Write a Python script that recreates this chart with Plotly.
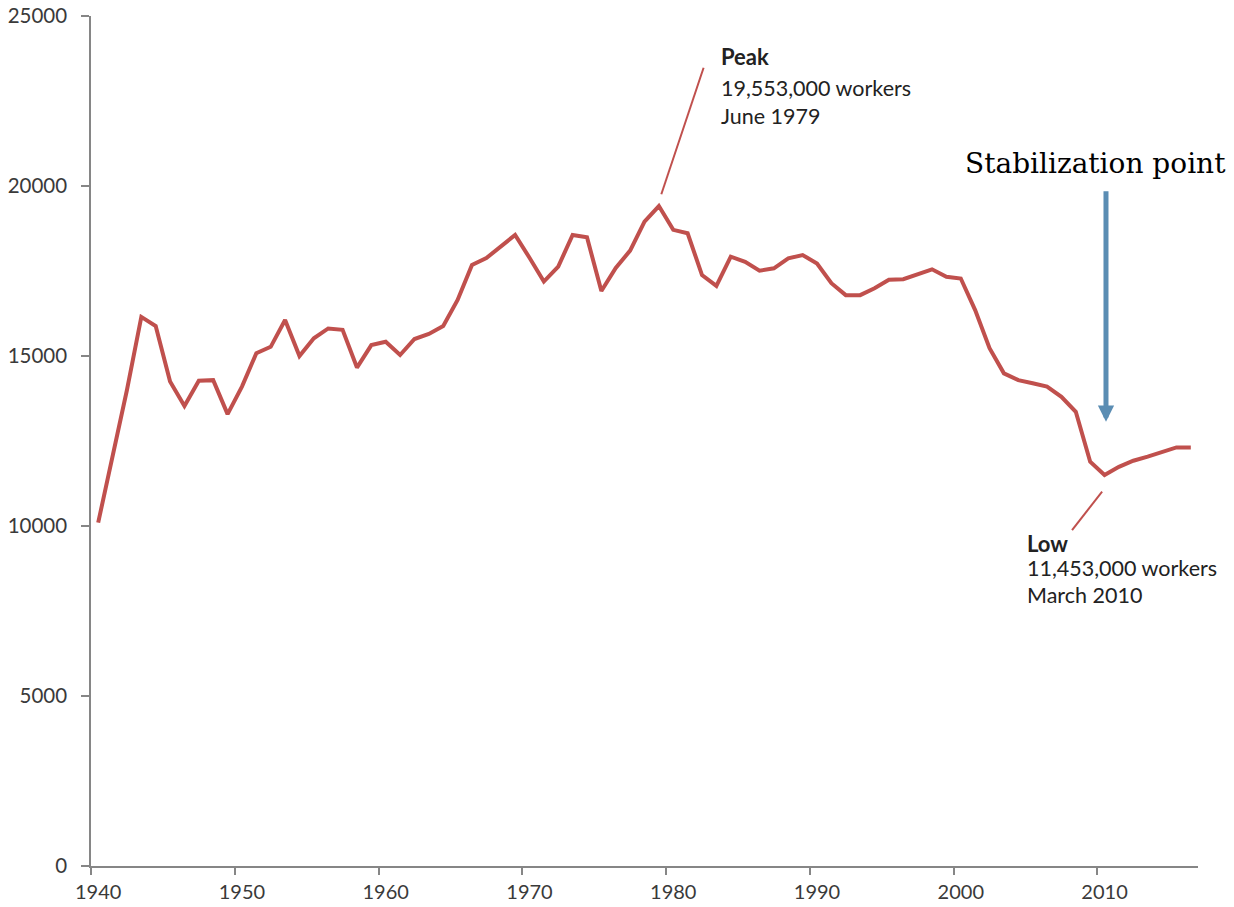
import plotly.graph_objects as go

# Manufacturing employment, annual values (thousands of workers)
years = list(range(1940, 2017))
employment = [
    10100, 12100, 14000, 16150, 15880, 14250, 13530, 14270, 14290, 13290,  # 1940s
    14100, 15080, 15270, 16060, 15000, 15520, 15810, 15770, 14660, 15320,  # 1950s
    15420, 15030, 15500, 15650, 15880, 16650, 17680, 17880, 18220, 18560,  # 1960s
    17890, 17190, 17630, 18560, 18490, 16910, 17590, 18100, 18950, 19410,  # 1970s
    18710, 18610, 17380, 17060, 17920, 17770, 17510, 17580, 17870, 17970,  # 1980s
    17720, 17140, 16790, 16790, 16990, 17240, 17260, 17410, 17550, 17330,  # 1990s
    17280, 16350, 15230, 14490, 14290, 14200, 14100, 13800, 13360, 11890,  # 2000s
    11500, 11740, 11920, 12040, 12190, 12310, 12310,                       # 2010s
]

decade_ticks = [1940, 1950, 1960, 1970, 1980, 1990, 2000, 2010]
decade_labels = [str(y) for y in decade_ticks]
y_ticks = [0, 5000, 10000, 15000, 20000, 25000]
y_labels = [str(v) for v in y_ticks]

peak_lines = ["<b>Peak</b>", "19,553,000 workers", "June 1979"]
low_lines = ["<b>Low</b>", "11,453,000 workers", "March 2010"]
stab_text = "Stabilization point"

LINE_RED = "#c0504d"
AXIS_GREY = "#868686"
TEXT_DARK = "#222222"
SANS = "Lato, 'Open Sans', sans-serif"

fig = go.Figure()
fig.add_trace(go.Scatter(
    x=years, y=employment, mode="lines",
    line=dict(color=LINE_RED, width=4),
    hoverinfo="x+y", showlegend=False,
))

# leader lines for the peak and low callouts
fig.add_shape(type="line", xref="x", yref="y",
              x0=1979.17, y0=19756, x1=1982.11, y1=23479,
              line=dict(color=LINE_RED, width=2))
fig.add_shape(type="line", xref="x", yref="y",
              x0=2009.83, y0=11009, x1=2007.74, y1=9882,
              line=dict(color=LINE_RED, width=2))

annotations = []
for text, yp, size in zip(peak_lines, [0.9518, 0.9153, 0.8824], [22, 21.5, 21.5]):
    annotations.append(dict(
        xref="paper", yref="paper", x=0.5674, y=yp, text=text,
        xanchor="left", yanchor="middle", showarrow=False,
        font=dict(family=SANS, size=size, color=TEXT_DARK)))
for text, yp, size in zip(low_lines, [0.3800, 0.3506, 0.3188], [22, 21.5, 21.5]):
    annotations.append(dict(
        xref="paper", yref="paper", x=0.8435, y=yp, text=text,
        xanchor="left", yanchor="middle", showarrow=False,
        font=dict(family=SANS, size=size, color=TEXT_DARK)))

annotations.append(dict(
    xref="paper", yref="paper", x=0.9072, y=0.8259, text=stab_text,
    xanchor="center", yanchor="middle", showarrow=False,
    font=dict(family="'DejaVu Serif', serif", size=28, color="#000000")))

# downward arrow pointing at the stabilization point
annotations.append(dict(
    xref="x", yref="y", x=2010.1, y=13068, text="",
    showarrow=True, axref="pixel", ayref="pixel", ax=0, ay=-232,
    arrowhead=2, arrowsize=0.65, arrowwidth=5, arrowcolor="#5b8db3",
    standoff=0, startstandoff=0))

fig.update_layout(
    width=1234, height=907, autosize=False,
    margin=dict(l=91, r=36, t=16, b=41, pad=0),
    paper_bgcolor="white", plot_bgcolor="white",
    annotations=annotations,
    xaxis=dict(
        range=[1939.5, 2016.5], showgrid=False, zeroline=False,
        showline=True, linecolor=AXIS_GREY, linewidth=1.5,
        tickmode="array", tickvals=decade_ticks, ticktext=decade_labels,
        ticks="", ticklabelstandoff=7,
        minor=dict(tickmode="linear", tick0=1939.5, dtick=10,
                   ticks="outside", ticklen=7, tickwidth=1.5,
                   tickcolor=AXIS_GREY, showgrid=False),
        tickfont=dict(family=SANS, size=20, color="#3a3a3a"),
        automargin=False, fixedrange=True,
    ),
    yaxis=dict(
        range=[0, 25000], showgrid=False, zeroline=False,
        showline=True, linecolor=AXIS_GREY, linewidth=1.5,
        tickmode="array", tickvals=y_ticks, ticktext=y_labels,
        ticks="outside", ticklen=8, tickwidth=1.5, tickcolor=AXIS_GREY,
        ticklabelstandoff=10,
        tickfont=dict(family=SANS, size=20.5, color="#3a3a3a"),
        automargin=False, fixedrange=True,
    ),
)

fig.write_html("out.html")
